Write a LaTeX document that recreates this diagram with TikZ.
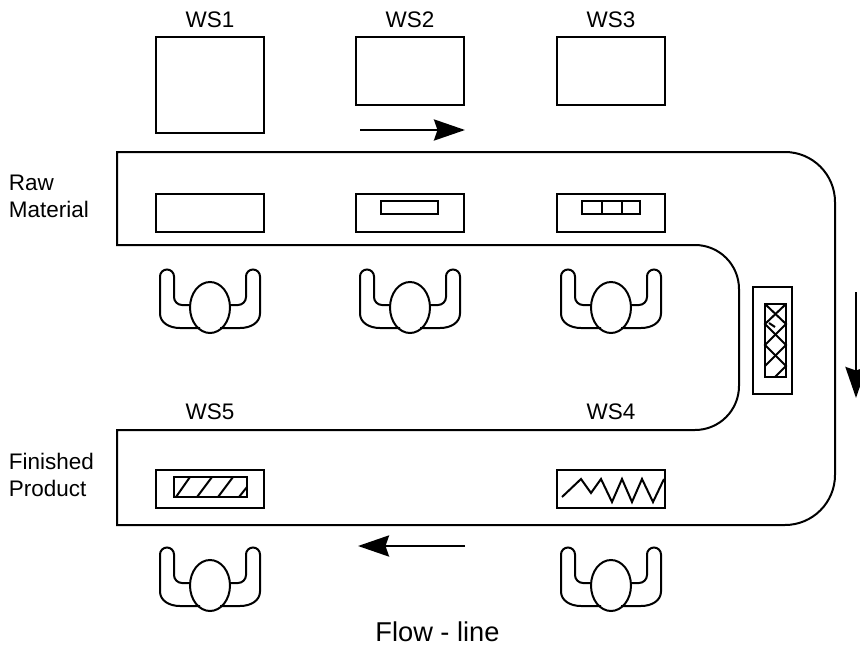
\documentclass[tikz,border=0pt]{standalone}
\usepackage{fontspec}
\setmainfont{Liberation Sans}
\usetikzlibrary{arrows.meta}
\tikzstyle{lbl}=[inner sep = 0 cm, font = \fontsize{12.8}{15}\selectfont]
\tikzstyle{big}=[inner sep = 0 cm, font = \fontsize{15.5}{18}\selectfont]
\tikzstyle{flow}=[-{Stealth[length=.62cm, width=.42cm, inset=.07cm]}, line width = .055 cm]
\tikzset{worker/.pic = {
  \draw (-20,-2.5) to (-28,-2.5) arc (90:180:8) to (-36,-31)
    arc (0:-180:7) to (-50,6)
    .. controls (-50,15) and (-41,20.5) .. (-30,20.5) to (-10,20.5);
  \draw (20,-2.5) to (28,-2.5) arc (90:0:8) to (36,-31)
    arc (180:360:7) to (50,6)
    .. controls (50,15) and (41,20.5) .. (30,20.5) to (10,20.5);
  \draw (0,0) ellipse [x radius = 20, y radius = 25.5];
}}
\begin{document}
\begin{tikzpicture}[x = .02cm, y = -.02cm, line width = .04 cm]
\useasboundingbox (0,0) rectangle (860,646);
%%%%%%%%%%%%%%%%%%%%%%%
\node (ws1) at (210,20) [lbl] {WS1};
\node (ws2) at (410,20) [lbl] {WS2};
\node (ws3) at (611,20) [lbl] {WS3};
\node (ws4) at (611,412) [lbl] {WS4};
\node (ws5) at (210,412) [lbl] {WS5};
\node (raw) at (8,196.5) [lbl, anchor = west, align = left] {Raw\\Material};
\node (fin) at (8,475) [lbl, anchor = west, align = left] {Finished\\Product};
\node (title) at (437.5,632) [big] {Flow - line};
%%%%%%%%%%%%%%%%%%%%%%%
\draw (156,37) rectangle (264,133);
\draw (356,37) rectangle (464,105);
\draw (557,37) rectangle (665,105);
%the belt
\draw (117,152) to (785,152) arc (-90:0:50) to (835,475) arc (0:90:50)
  to (117,525) to (117,430) to (695,430) arc (90:0:44) to (739,289) arc (0:-90:44)
  to (117,245) -- cycle;
%parts on the belt
\draw (156,194) rectangle (264,232);
\draw (356,194) rectangle (464,232);
\draw (381,201) rectangle (438,214);
\draw (557,194) rectangle (665,232);
\draw (582,201) rectangle (640,214);
\draw (602,201) to (602,214);
\draw (622,201) to (622,214);
\draw (753,287) rectangle (792,394);
\draw (765,304) rectangle (786,377);
\draw (765,304) to (786,324) to (765,345) to (786,366) to (775,377);
\draw (786,304) to (765,324) to (786,345) to (765,366);
\draw (769,323) to (775,327);
\draw (557,470) rectangle (665,508);
\draw (562,497) to (581,479) to (591,493) to (601,479) to (612,502) to (622,479)
  to (632,502) to (642,479) to (653,502) to (664,479);
\draw (156,470) rectangle (264,508);
\draw (174,477) rectangle (247,497);
\draw (176,497) to (190,477);
\draw (197,497) to (212,477);
\draw (218,497) to (233,477);
\draw (239,497) to (247,487);
%%%%%%%%%%%%%%%%%%%%%%%
\pic at (210,307.5) {worker};
\pic at (410,307.5) {worker};
\pic at (611,307.5) {worker};
\pic at (210,585.5) {worker};
\pic at (611,585.5) {worker};
%%%%%%%%%%%%%%%%%%%%%%%
\coordinate (a1) at (360,130);
\coordinate (a2) at (465,130);
\coordinate (b1) at (856,292);
\coordinate (b2) at (856,398);
\coordinate (c1) at (465,546);
\coordinate (c2) at (358,546);
\draw [flow] (a1) to (a2);
\draw [flow] (b1) to (b2);
\draw [flow] (c1) to (c2);
\end{tikzpicture}
\end{document}
